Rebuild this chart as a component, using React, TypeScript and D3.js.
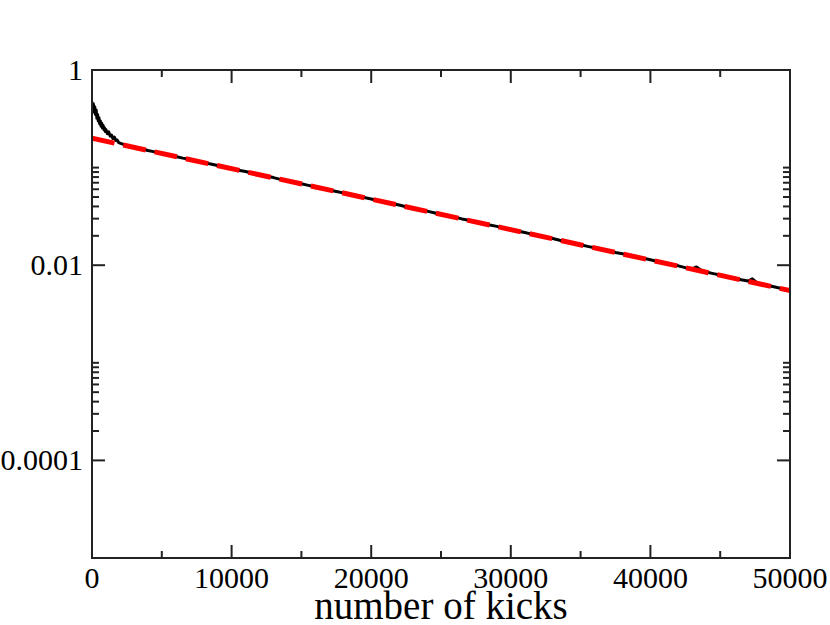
import React from "react";
import * as d3 from "d3";

const kicks: number[] = [
  0, 50, 100, 150, 200, 250, 300, 350, 400, 450, 500, 550, 600, 650, 700, 750, 800, 850, 900, 950, 1000,
  1100, 1200, 1300, 1400, 1500, 1600, 1700, 1800, 1900, 2000,
  2500, 3000, 3500, 4000, 4500, 5000, 5500, 6000, 6500, 7000, 7500, 8000, 8500, 9000, 9500, 10000,
  10500, 11000, 11500, 12000, 12500, 13000, 13500, 14000, 14500, 15000, 15500, 16000, 16500, 17000,
  17500, 18000, 18500, 19000, 19500, 20000, 20500, 21000, 21500, 22000, 22500, 23000, 23500, 24000,
  24500, 25000, 25500, 26000, 26500, 27000, 27500, 28000, 28500, 29000, 29500, 30000, 30500, 31000,
  31500, 32000, 32500, 33000, 33500, 34000, 34500, 35000, 35500, 36000, 36500, 37000, 37500, 38000,
  38500, 39000, 39500, 40000, 40500, 41000, 41500, 42000, 42500, 43000, 43300, 43600, 44000, 44500,
  45000, 45500, 46000, 46500, 47000, 47300, 47600, 48000, 48500, 49000, 49500, 50000,
];
const survival: number[] = [
  0.47, 0.39, 0.45, 0.37, 0.42, 0.35, 0.39, 0.32, 0.35, 0.3, 0.325, 0.28, 0.3, 0.265, 0.285, 0.255, 0.27, 0.245, 0.255, 0.235, 0.245,
  0.222, 0.232, 0.21, 0.215, 0.198, 0.205, 0.19, 0.192, 0.181, 0.178,
  0.168, 0.1615, 0.157, 0.1495, 0.145, 0.14, 0.1352, 0.1302, 0.125, 0.1215, 0.117, 0.1125, 0.109, 0.105, 0.101, 0.0978,
  0.094, 0.0912, 0.0876, 0.0846, 0.0816, 0.079, 0.0758, 0.0733, 0.0707, 0.0683, 0.0658, 0.0636, 0.0612, 0.059,
  0.057, 0.0551, 0.053, 0.0513, 0.0493, 0.0477, 0.0459, 0.0444, 0.0427, 0.0413, 0.0397, 0.0384, 0.037, 0.0358,
  0.0345, 0.0333, 0.032, 0.031, 0.0298, 0.0289, 0.0277, 0.0268, 0.0258, 0.025, 0.024, 0.0232, 0.0224, 0.0216,
  0.0208, 0.0201, 0.0194, 0.0188, 0.018, 0.0174, 0.0168, 0.0162, 0.0156, 0.0151, 0.0146, 0.0141, 0.0135, 0.0131,
  0.0126, 0.0122, 0.0118, 0.01138, 0.0109, 0.01058, 0.0102, 0.00985, 0.00945, 0.00915, 0.0096, 0.00895, 0.00852, 0.0082,
  0.00792, 0.00762, 0.00738, 0.0071, 0.00688, 0.00725, 0.00668, 0.0064, 0.00615, 0.00595, 0.00572, 0.00552,
];

const fitKicks: number[] = [0, 50000];
const fitValues: number[] = [0.2, 0.0055];

const xMajorTicks: number[] = [0, 10000, 20000, 30000, 40000, 50000];
const xMinorTicks: number[] = [5000, 15000, 25000, 35000, 45000];
const yMajorTicks: number[] = [1, 0.01, 0.0001];
const yMajorLabels: string[] = ["1", "0.01", "0.0001"];
const yMinorTicks: number[] = [
  0.02, 0.03, 0.04, 0.05, 0.06, 0.07, 0.08, 0.09, 0.1,
  0.0002, 0.0003, 0.0004, 0.0005, 0.0006, 0.0007, 0.0008, 0.0009, 0.001,
];
const xLabel = "number of kicks";

export default function App() {
  const W = 830, H = 625;
  const L = 92, R = 790, T = 70, B = 558;
  const x = d3.scaleLinear().domain([0, 50000]).range([L, R]);
  const y = d3.scaleLog().domain([1e-5, 1]).range([B, T]);
  const pts = kicks.map((k, i) => [k, survival[i]] as [number, number]);
  const fit = fitKicks.map((k, i) => [k, fitValues[i]] as [number, number]);
  const line = d3.line<[number, number]>().x((d) => x(d[0])).y((d) => y(d[1]));
  const font = "'Liberation Serif', 'Times New Roman', serif";
  const axisColor = "#222";
  const major = 13, minor = 7;
  return (
    <svg width={W} height={H} style={{ position: "absolute", left: 0, top: 0, background: "#fff" }}>
      <defs>
        <clipPath id="plotclip">
          <rect x={L} y={T} width={R - L} height={B - T} />
        </clipPath>
      </defs>
      <g clipPath="url(#plotclip)">
        <path d={line(pts) || ""} fill="none" stroke="#000" strokeWidth={3} strokeLinejoin="round" />
        <path d={line(fit) || ""} fill="none" stroke="#ff0000" strokeWidth={5} strokeDasharray="23 9" />
      </g>
      {xMajorTicks.map((t) => (
        <g key={"xM" + t}>
          <line x1={x(t)} x2={x(t)} y1={B} y2={B - major} stroke={axisColor} strokeWidth={2} />
          <line x1={x(t)} x2={x(t)} y1={T} y2={T + major} stroke={axisColor} strokeWidth={2} />
          <text x={x(t)} y={588} textAnchor="middle" fontFamily={font} fontSize={30} fill="#000">
            {t}
          </text>
        </g>
      ))}
      {xMinorTicks.map((t) => (
        <g key={"xm" + t}>
          <line x1={x(t)} x2={x(t)} y1={B} y2={B - minor} stroke={axisColor} strokeWidth={2} />
          <line x1={x(t)} x2={x(t)} y1={T} y2={T + minor} stroke={axisColor} strokeWidth={2} />
        </g>
      ))}
      {yMajorTicks.map((t, i) => (
        <g key={"yM" + t}>
          <line x1={L} x2={L + major} y1={y(t)} y2={y(t)} stroke={axisColor} strokeWidth={2} />
          <line x1={R} x2={R - major} y1={y(t)} y2={y(t)} stroke={axisColor} strokeWidth={2} />
          <text x={83} y={y(t) + 10} textAnchor="end" fontFamily={font} fontSize={30} fill="#000">
            {yMajorLabels[i]}
          </text>
        </g>
      ))}
      {yMinorTicks.map((t) => (
        <g key={"ym" + t}>
          <line x1={L} x2={L + minor} y1={y(t)} y2={y(t)} stroke={axisColor} strokeWidth={2} />
          <line x1={R} x2={R - minor} y1={y(t)} y2={y(t)} stroke={axisColor} strokeWidth={2} />
        </g>
      ))}
      <rect x={L} y={T} width={R - L} height={B - T} fill="none" stroke={axisColor} strokeWidth={2} />
      <text x={(L + R) / 2} y={619} textAnchor="middle" fontFamily={font} fontSize={39} fill="#000">
        {xLabel}
      </text>
    </svg>
  );
}
